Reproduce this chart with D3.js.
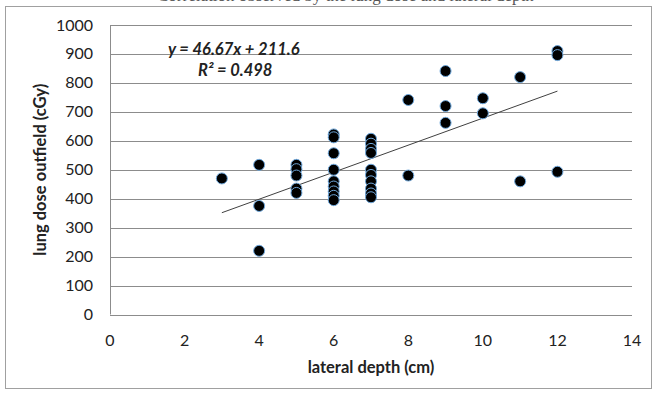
<!DOCTYPE html>
<html>
<head>
<meta charset="utf-8">
<script src="https://cdn.jsdelivr.net/npm/d3@7"></script>
<style>
  body { margin: 0; background: #fff; }
  svg { display: block; font-family: Lato, "Liberation Sans", sans-serif; }
</style>
</head>
<body>
<svg id="chart" width="656" height="396"></svg>
<script>
// data
let depth = [3, 4, 4, 4, 5, 5, 5, 5, 5, 6, 6, 6, 6, 6, 6, 6, 6, 6,
             7, 7, 7, 7, 7, 7, 7, 7, 7, 7, 8, 8, 9, 9, 9, 10, 10, 11, 11, 12, 12, 12];
let dose = [470, 517, 375, 220, 517, 502, 480, 435, 420,
            622, 612, 557, 500, 460, 442, 425, 410, 395,
            607, 590, 572, 558, 500, 482, 460, 435, 418, 405,
            741, 480, 841, 720, 662, 747, 695, 820, 460, 910, 896, 493];
let xTicks = [0, 2, 4, 6, 8, 10, 12, 14];
let yTicks = [0, 100, 200, 300, 400, 500, 600, 700, 800, 900, 1000];
let slope = 46.67, intercept = 211.6, r2 = "0.498";

let svg = d3.select("#chart"),
    width = +svg.attr("width"),
    height = +svg.attr("height");

let plotL = 110, plotR = 632, plotT = 25, plotB = 314.5;

let x = d3.scaleLinear().domain([0, 14]).range([plotL, plotR]);
let y = d3.scaleLinear().domain([0, 1000]).range([plotB, plotT]);

// caption of the page above, cut off by the crop
svg.append("text")
    .attr("x", 157).attr("y", 0.5)
    .attr("font-family", "'Liberation Serif', serif")
    .attr("font-size", 17)
    .attr("fill", "#555")
    .text("Correlation observed by the lung dose and lateral depth");

// chart frame
svg.append("rect")
    .attr("x", 5.5).attr("y", 6.5)
    .attr("width", 646).attr("height", 382)
    .attr("fill", "none").attr("stroke", "#a0a0a0");

// gridlines
svg.append("g").selectAll("line")
  .data(yTicks)
  .enter().append("line")
    .attr("x1", plotL).attr("x2", plotR)
    .attr("y1", d => Math.round(y(d)) + 0.5).attr("y2", d => Math.round(y(d)) + 0.5)
    .attr("stroke", "#8c8c8c");

// y axis line
svg.append("line")
    .attr("x1", plotL + 0.5).attr("x2", plotL + 0.5)
    .attr("y1", plotT).attr("y2", plotB)
    .attr("stroke", "#8c8c8c");

// tick labels
svg.append("g").selectAll("text")
  .data(yTicks)
  .enter().append("text")
    .attr("x", 93).attr("y", d => y(d) + 5.5)
    .attr("text-anchor", "end")
    .attr("font-size", 16).attr("fill", "#222")
    .text(d => d);

svg.append("g").selectAll("text")
  .data(xTicks)
  .enter().append("text")
    .attr("x", d => x(d)).attr("y", 346)
    .attr("text-anchor", "middle")
    .attr("font-size", 16).attr("fill", "#222")
    .text(d => d);

// axis titles
svg.append("text")
    .attr("x", (plotL + plotR) / 2).attr("y", 373)
    .attr("text-anchor", "middle")
    .attr("font-size", 16.5).attr("font-weight", "bold").attr("fill", "#222")
    .text("lateral depth (cm)");

svg.append("text")
    .attr("transform", "translate(46," + (plotT + plotB) / 2 + ") rotate(-90)")
    .attr("text-anchor", "middle")
    .attr("font-size", 16.5).attr("font-weight", "bold").attr("fill", "#222")
    .text("lung dose outfield (cGy)");

// linear trendline
let xr = d3.extent(depth);
svg.append("line")
    .attr("x1", x(xr[0])).attr("y1", y(slope * xr[0] + intercept))
    .attr("x2", x(xr[1])).attr("y2", y(slope * xr[1] + intercept))
    .attr("stroke", "#404040").attr("stroke-width", 1);

// points
svg.append("g").selectAll("circle")
  .data(d3.zip(depth, dose))
  .enter().append("circle")
    .attr("cx", d => x(d[0]))
    .attr("cy", d => y(d[1]))
    .attr("r", 5.5)
    .attr("fill", "#000")
    .attr("stroke", "#6fa8dc")
    .attr("stroke-width", 1);

// equation
svg.append("text")
    .attr("x", 168).attr("y", 55)
    .attr("font-size", 16.5).attr("font-weight", "bold").attr("font-style", "italic")
    .attr("fill", "#222")
    .text("y = " + slope + "x + " + intercept);

svg.append("text")
    .attr("x", 198).attr("y", 76)
    .attr("font-size", 16.5).attr("font-weight", "bold").attr("font-style", "italic")
    .attr("fill", "#222")
    .text("R² = " + r2);
</script>
</body>
</html>
